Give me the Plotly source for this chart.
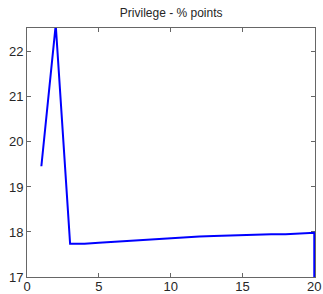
import plotly.graph_objects as go

x_vals = [1, 2, 3, 4, 5, 6, 7, 8, 9, 10, 11, 12, 13, 14, 15, 16, 17, 18, 19, 20, 20]
privilege = [19.46, 22.6, 17.74, 17.74, 17.76, 17.78, 17.80, 17.82, 17.84, 17.87,
             17.88, 17.90, 17.91, 17.92, 17.93, 17.95, 17.95, 17.95, 17.96, 17.98, 16.5]
x_ticks = [0, 5, 10, 15, 20]
y_ticks = [17, 18, 19, 20, 21, 22]
title_text = "Privilege - % points"

fig = go.Figure()
fig.add_trace(go.Scatter(x=x_vals, y=privilege, mode="lines",
                         line=dict(color="#0000ff", width=2)))

axis_common = dict(showgrid=False, zeroline=False, showline=True, linecolor="#666666",
                   linewidth=1, ticks="inside", ticklen=4, tickcolor="#666666",
                   mirror="ticks", layer="below traces", automargin=False,
                   tickfont=dict(family="Liberation Sans, Arial", size=13, color="#262626"))
fig.update_xaxes(range=[0, 20.05], tickvals=x_ticks, ticklabelstandoff=-3, **axis_common)
fig.update_yaxes(range=[17, 22.53], tickvals=y_ticks, **axis_common)

fig.update_layout(
    width=323, height=294,
    margin=dict(l=27, r=8, t=28, b=17),
    paper_bgcolor="white", plot_bgcolor="white",
    showlegend=False,
    title=dict(text=title_text, x=0.53, xanchor="center", y=0.956, yanchor="middle",
               automargin=False,
               font=dict(family="Liberation Sans, Arial", size=12, color="#262626")),
)
fig.write_html("out.html", config={"displayModeBar": False},
               post_script="document.body.style.margin='0';document.body.style.overflow='hidden';")
